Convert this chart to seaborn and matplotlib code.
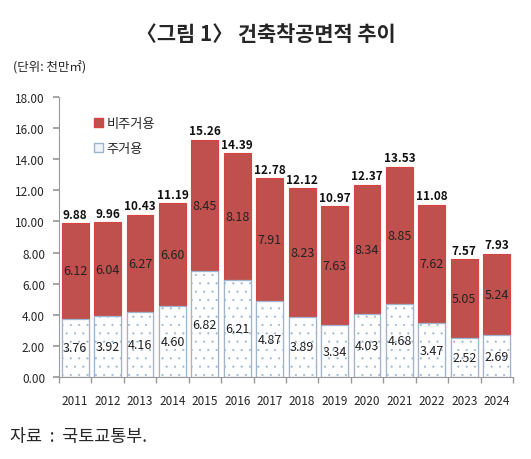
import matplotlib
matplotlib.use("Agg")
import matplotlib.pyplot as plt
import seaborn as sns
import pandas as pd
import numpy as np
from matplotlib.patches import Patch

years = ["2011", "2012", "2013", "2014", "2015", "2016", "2017", "2018", "2019", "2020", "2021", "2022", "2023", "2024"]
residential = [3.76, 3.92, 4.16, 4.60, 6.82, 6.21, 4.87, 3.89, 3.34, 4.03, 4.68, 3.47, 2.52, 2.69]
nonresidential = [6.12, 6.04, 6.27, 6.60, 8.45, 8.18, 7.91, 8.23, 7.63, 8.34, 8.85, 7.62, 5.05, 5.24]
totals = [9.88, 9.96, 10.43, 11.19, 15.26, 14.39, 12.78, 12.12, 10.97, 12.37, 13.53, 11.08, 7.57, 7.93]
yticks = [0, 2, 4, 6, 8, 10, 12, 14, 16, 18]

sns.set_theme(style="white")
plt.rcParams['font.family'] = ['Noto Sans CJK KR', 'DejaVu Sans']
plt.rcParams['hatch.linewidth'] = 0.3

df = pd.DataFrame({"year": years, "res": residential, "nonres": nonresidential, "total": totals})

fig = plt.figure(figsize=(5.31, 4.6), dpi=100)
ax = fig.add_axes([0.111, 0.178, 0.855, 0.609])

red = "#C0504D"
sns.barplot(data=df, x="year", y="total", color=red, width=0.83, ax=ax,
            edgecolor="#D9433F", linewidth=0.8, saturation=1)
n_red = len(ax.patches)
sns.barplot(data=df, x="year", y="res", color="white", width=0.83, ax=ax,
            edgecolor="#9DB5CF", linewidth=0.9, saturation=1)
for p in ax.patches[n_red:]:
    p.set_facecolor("white")
    p.set_hatch("..")
    p.set_edgecolor("#9DB5CF")

for i in range(len(years)):
    r = residential[i]
    t = totals[i]
    ax.text(i, r / 2, f"{r:.2f}", ha="center", va="center", fontsize=9, color="#222222")
    ax.text(i, r + (t - r) / 2, f"{nonresidential[i]:.2f}", ha="center", va="center", fontsize=9, color="#222222")
    ax.text(i, t + 0.15, f"{t:.2f}", ha="center", va="bottom", fontsize=8.5, fontweight="bold", color="#111111")

ax.set_ylim(0, 18)
ax.set_xlim(-0.5, len(years) - 0.5)
ax.set_yticks(yticks)
ax.set_yticklabels([f"{v:.2f}" for v in yticks], fontsize=8.5)
ax.set_xlabel("")
ax.set_ylabel("")
ax.tick_params(axis="x", labelsize=8.5, length=0, pad=12)
ax.tick_params(axis="y", length=4, color="#999999", left=True, pad=6)
ax.set_xticks(np.arange(len(years)))
ax.set_xticks(np.arange(-0.5, len(years), 1), minor=True)
ax.tick_params(axis="x", which="minor", length=4, color="#999999", bottom=True)
for s in ["top", "right"]:
    ax.spines[s].set_visible(False)
for s in ["left", "bottom"]:
    ax.spines[s].set_color("#999999")
    ax.spines[s].set_linewidth(0.8)

handles = [Patch(facecolor=red, edgecolor="#D9433F", label="비주거용"),
           Patch(facecolor="#EEF4FA", edgecolor="#9DB5CF", label="주거용")]
ax.legend(handles=handles, loc="upper left", bbox_to_anchor=(0.05, 0.97), frameon=False,
          fontsize=9.5, handlelength=0.7, handleheight=0.7, handletextpad=0.3, labelspacing=0.9)

fig.text(0.5, 0.925, "〈그림 1〉 건축착공면적 추이", ha="center", va="center", fontsize=15, fontweight="bold")
fig.text(0.025, 0.852, "(단위: 천만㎡)", ha="left", va="center", fontsize=9)
fig.text(0.018, 0.05, "자료  :  국토교통부.", ha="left", va="center", fontsize=12.5)

fig.savefig("out.png", dpi=100)
